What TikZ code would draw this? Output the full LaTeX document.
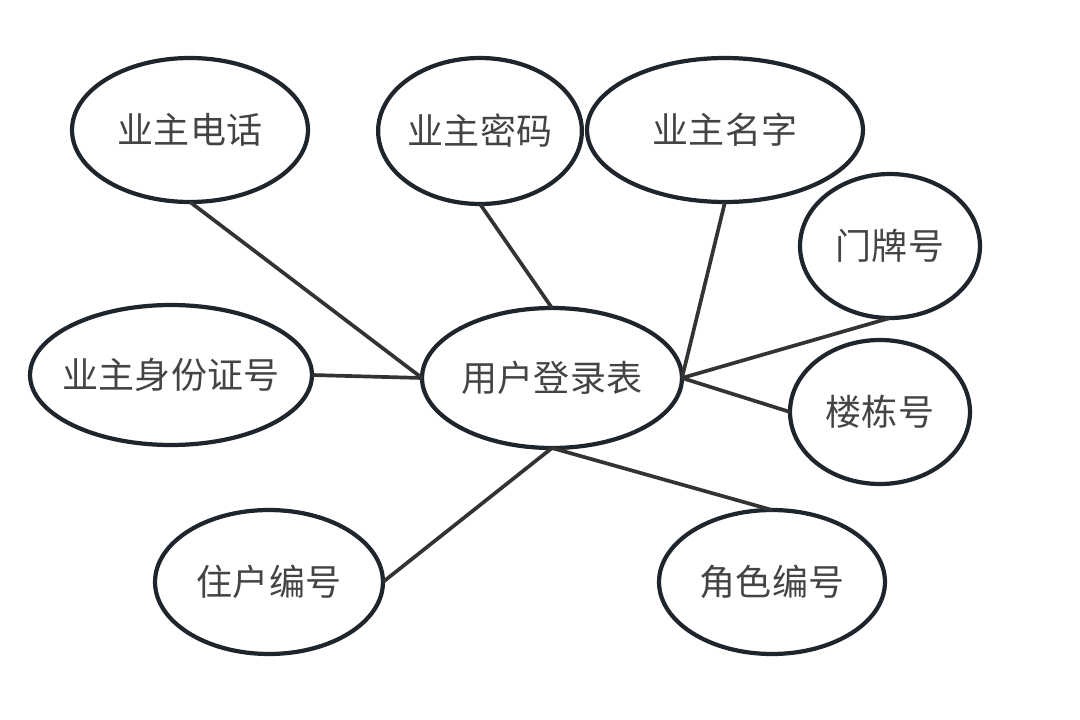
\documentclass[tikz,border=0pt]{standalone}
\usepackage{fontspec}
\setmainfont{Noto Sans CJK SC}
\usetikzlibrary{shapes.geometric}
\definecolor{edgec}{HTML}{1F252D}
\definecolor{linec}{HTML}{333333}
\definecolor{textc}{HTML}{444444}
\tikzset{
  attr/.style={ellipse, draw=edgec, line width=2.4pt, fill=white, inner sep=0pt, outer sep=0pt,
    text=textc, font=\fontsize{20.5}{24}\selectfont},
  conn/.style={draw=linec, line width=2.1pt}
}
\begin{document}
\begin{tikzpicture}[x=0.02cm,y=-0.02cm]
\useasboundingbox (0,0) rectangle (1080,720);
\node[attr, minimum width=4.72cm, minimum height=2.88cm] (tel) at (190,130) {业主电话};
\node[attr, minimum width=4.0cm, minimum height=2.92cm] (pwd) at (480,131) {业主密码};
\node[attr, minimum width=5.52cm, minimum height=2.88cm] (name) at (725,130) {业主名字};
\node[attr, minimum width=3.6cm, minimum height=2.88cm] (door) at (890,246) {门牌号};
\node[attr, minimum width=5.64cm, minimum height=2.8cm] (id) at (171,375) {\makebox[0pt]{业主身份证号}};
\node[attr, minimum width=5.2cm, minimum height=2.8cm] (main) at (552,378) {\makebox[0pt]{用户登录表}};
\node[attr, minimum width=3.6cm, minimum height=2.88cm] (bldg) at (880,412) {楼栋号};
\node[attr, minimum width=4.56cm, minimum height=2.88cm] (resid) at (269,582) {住户编号};
\node[attr, minimum width=4.52cm, minimum height=2.88cm] (role) at (772,582) {角色编号};
\draw[conn] (tel.south) -- (main.west);
\draw[conn] (id.east) -- (main.west);
\draw[conn] (pwd.south) -- (main.north);
\draw[conn] (name.south) -- (main.east);
\draw[conn] (door.south) -- (main.east);
\draw[conn] (bldg.west) -- (main.east);
\draw[conn] (resid.east) -- (main.south);
\draw[conn] (role.north) -- (main.south);
\end{tikzpicture}
\end{document}
